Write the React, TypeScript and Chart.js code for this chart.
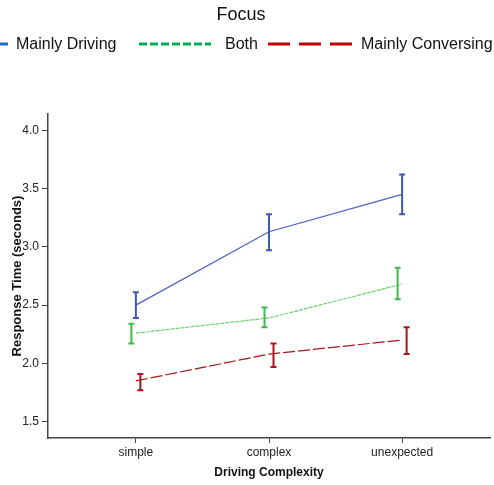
import React, { useEffect, useRef } from "react";
import { Chart, registerables } from "chart.js";

Chart.register(...registerables);

const categories = ["simple", "complex", "unexpected"];
const yTicks = [1.5, 2.0, 2.5, 3.0, 3.5, 4.0];

const seriesNames = ["Mainly Driving", "Both", "Mainly Conversing"];

const drivingMean = [2.5, 3.13, 3.45];
const drivingLow = [2.39, 2.97, 3.28];
const drivingHigh = [2.61, 3.28, 3.62];

const bothMean = [2.26, 2.39, 2.68];
const bothLow = [2.17, 2.31, 2.55];
const bothHigh = [2.34, 2.48, 2.82];

const conversingMean = [1.85, 2.08, 2.2];
const conversingLow = [1.77, 1.97, 2.08];
const conversingHigh = [1.91, 2.17, 2.31];

const FONT = "'Liberation Sans', Arial, sans-serif";

export default function App() {
  const ref = useRef<HTMLCanvasElement | null>(null);

  useEffect(() => {
    document.body.style.margin = "0";
    const canvas = ref.current;
    if (!canvas) return;
    Chart.defaults.font.family = FONT;

    const errLow = [drivingLow, bothLow, conversingLow];
    const errHigh = [drivingHigh, bothHigh, conversingHigh];
    const errColors = ["#3f58b4", "#3dba4a", "#a5161c"];
    const dodgePx = [0, -4.5, 4.5];

    const errorBars = {
      id: "errorBars",
      afterDatasetsDraw(chart: any) {
        const { ctx, scales } = chart;
        const xs = scales.x;
        const ys = scales.y;
        ctx.save();
        errLow.forEach((lows, s) => {
          ctx.strokeStyle = errColors[s];
          ctx.lineWidth = 2;
          ctx.setLineDash([]);
          lows.forEach((lo, i) => {
            const hi = errHigh[s][i];
            const x = xs.getPixelForValue(i) + dodgePx[s];
            const y1 = ys.getPixelForValue(lo);
            const y2 = ys.getPixelForValue(hi);
            ctx.beginPath();
            ctx.moveTo(x, y1);
            ctx.lineTo(x, y2);
            ctx.moveTo(x - 3, y1);
            ctx.lineTo(x + 3, y1);
            ctx.moveTo(x - 3, y2);
            ctx.lineTo(x + 3, y2);
            ctx.stroke();
          });
        });
        ctx.restore();
      },
    };

    const legendItems = [
      { x1: -62, x2: 8, tx: 16, color: "#1f6fc5", dash: [] as number[] },
      { x1: 139, x2: 211, tx: 225, color: "#00b050", dash: [8, 3] },
      { x1: 268, x2: 353, tx: 361, color: "#c00000", dash: [22, 9] },
    ];

    const topLegend = {
      id: "topLegend",
      afterDraw(chart: any) {
        const { ctx } = chart;
        ctx.save();
        ctx.fillStyle = "#111";
        ctx.font = `18px ${FONT}`;
        ctx.textAlign = "center";
        ctx.textBaseline = "middle";
        ctx.fillText("Focus", 241, 15);
        ctx.font = `16px ${FONT}`;
        ctx.textAlign = "left";
        legendItems.forEach((it, i) => {
          ctx.strokeStyle = it.color;
          ctx.lineWidth = 3;
          ctx.setLineDash(it.dash);
          ctx.beginPath();
          ctx.moveTo(it.x1, 44);
          ctx.lineTo(it.x2, 44);
          ctx.stroke();
          ctx.fillStyle = "#111";
          ctx.fillText(seriesNames[i], it.tx, 45);
        });
        ctx.restore();
      },
    };

    const toPts = (arr: number[]) => arr.map((v, i) => ({ x: i, y: v }));

    const chart = new Chart(canvas, {
      type: "line",
      data: {
        datasets: [
          {
            label: seriesNames[0],
            data: toPts(drivingMean),
            borderColor: "#4a62c0",
            borderWidth: 1.2,
            pointRadius: 0,
          },
          {
            label: seriesNames[1],
            data: toPts(bothMean),
            borderColor: "#6fcf6f",
            borderWidth: 1.2,
            borderDash: [4, 1],
            pointRadius: 0,
          },
          {
            label: seriesNames[2],
            data: toPts(conversingMean),
            borderColor: "#a5161c",
            borderWidth: 1.2,
            borderDash: [12, 3],
            pointRadius: 0,
          },
        ],
      },
      options: {
        animation: false,
        responsive: false,
        layout: { padding: { top: 114, right: 4, left: 0, bottom: 0 } },
        plugins: {
          legend: { display: false },
          tooltip: { enabled: false },
        },
        scales: {
          x: {
            type: "linear",
            min: -0.66,
            max: 2.66,
            afterBuildTicks: (s: any) => {
              s.ticks = categories.map((_, i) => ({ value: i }));
            },
            afterFit: (s: any) => {
              s.height = 47;
            },
            ticks: {
              callback: (v: any) => categories[v as number],
              color: "#222",
              font: { size: 12 },
              padding: 2,
              maxRotation: 0,
            },
            grid: {
              drawOnChartArea: false,
              drawTicks: true,
              tickLength: 5,
              color: "#444",
            },
            border: { display: true, color: "#444", width: 1.5 },
            title: {
              display: true,
              text: "Driving Complexity",
              color: "#111",
              font: { size: 12, weight: "bold" },
              padding: { top: 0, bottom: 5 },
            },
          },
          y: {
            type: "linear",
            min: 1.36,
            max: 4.14,
            afterBuildTicks: (s: any) => {
              s.ticks = yTicks.map((v) => ({ value: v }));
            },
            afterFit: (s: any) => {
              s.width = 48;
            },
            ticks: {
              callback: (v: any) => Number(v).toFixed(1),
              color: "#222",
              font: { size: 12 },
              padding: 3,
            },
            grid: {
              drawOnChartArea: false,
              drawTicks: true,
              tickLength: 6,
              color: "#444",
            },
            border: { display: true, color: "#444", width: 1.5 },
            title: {
              display: true,
              text: "Response Time (seconds)",
              color: "#111",
              font: { size: 13, weight: "bold" },
              padding: { top: 10, bottom: 0 },
            },
          },
        },
      },
      plugins: [errorBars, topLegend],
    });

    return () => chart.destroy();
  }, []);

  return (
    <canvas
      ref={ref}
      width={494}
      height={485}
      style={{ display: "block", width: 494, height: 485 }}
    />
  );
}
